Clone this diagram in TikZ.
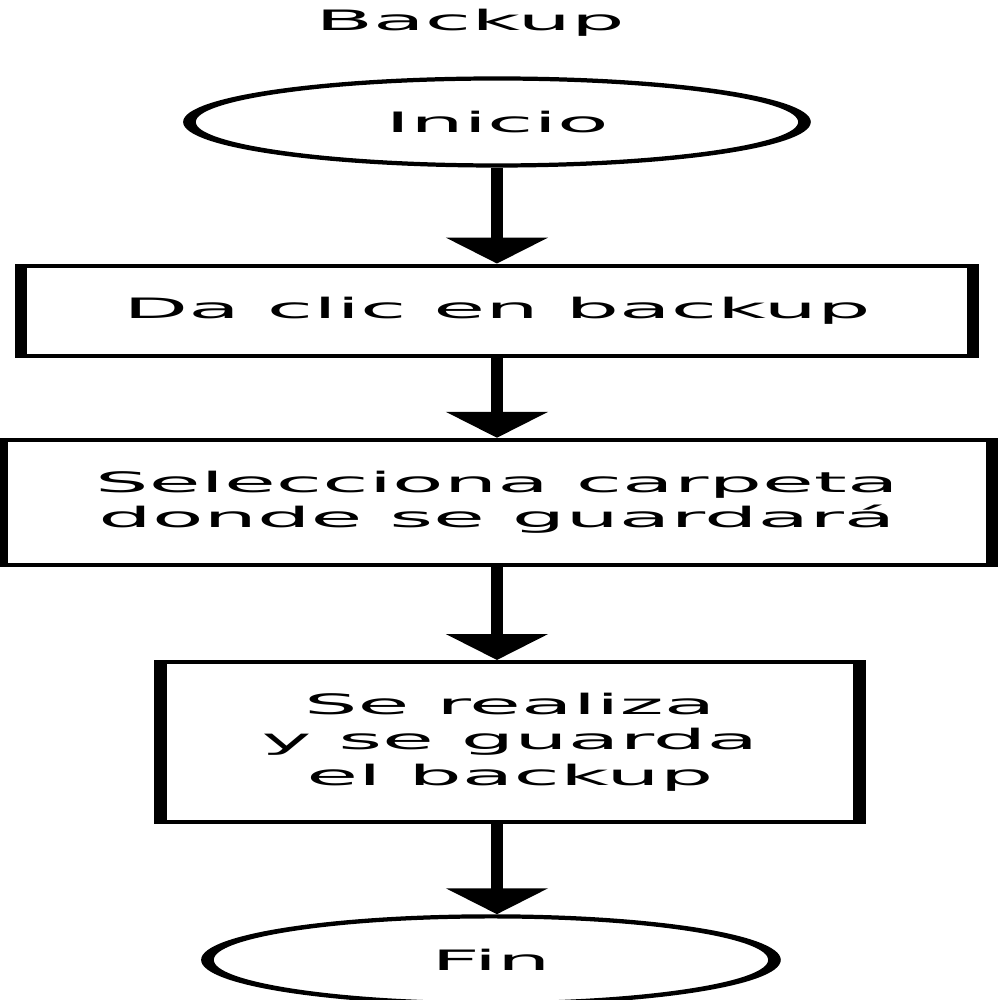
\documentclass[tikz,border=0pt]{standalone}
\usepackage{fontspec}
\setmainfont{DejaVu Sans}
\usetikzlibrary{arrows.meta,positioning,shapes.geometric}
\tikzset{
flujo/.style={->,>={Triangle[width=3.3mm,length=2.6mm]},line width=1.2pt},
texto/.style={font=\fontsize{8pt}{10pt}\selectfont,align=center,inner sep=0pt},
terminal/.style={texto,ellipse,draw,line width=1.2pt,minimum width=#1,minimum height=8.7mm},
terminal/.default={2.05cm},
proceso/.style={texto,rectangle,draw,line width=1.2pt,minimum width=#1},
proceso/.default={3cm},
}

\begin{document}
\begin{tikzpicture}
  \useasboundingbox (0,0) rectangle (10cm,-10cm);
  \begin{scope}[transform canvas={xscale=3},x=0.1mm/3,y=-0.1mm]
    \node[texto] (titulo) at (470,23) {Backup};
    \node[terminal] (inicio) at (497,122) {Inicio};
    \node[proceso=9.52cm/3, minimum height=9mm, below=9.6mm of inicio] (clic) {Da clic en backup};
    \node[proceso=9.9cm/3, minimum height=12.5mm, below=8mm of clic] (carpeta) {Selecciona carpeta\\donde se guardará};
    \node[proceso=6.99cm/3, minimum height=16mm, below=9.3mm of carpeta, xshift=0.43mm] (guarda) {Se realiza\\y se guarda\\el backup};
    \node[terminal=1.89cm, below=9mm of guarda, xshift=-0.63mm] (fin) {Fin};

    \draw[flujo] (inicio.south) -- (inicio.south |- clic.north);
    \draw[flujo] (clic.south -| inicio) -- (carpeta.north -| inicio);
    \draw[flujo] (carpeta.south -| inicio) -- (guarda.north -| inicio);
    \draw[flujo] (guarda.south -| inicio) -- (fin.north -| inicio);
  \end{scope}
\end{tikzpicture}
\end{document}
